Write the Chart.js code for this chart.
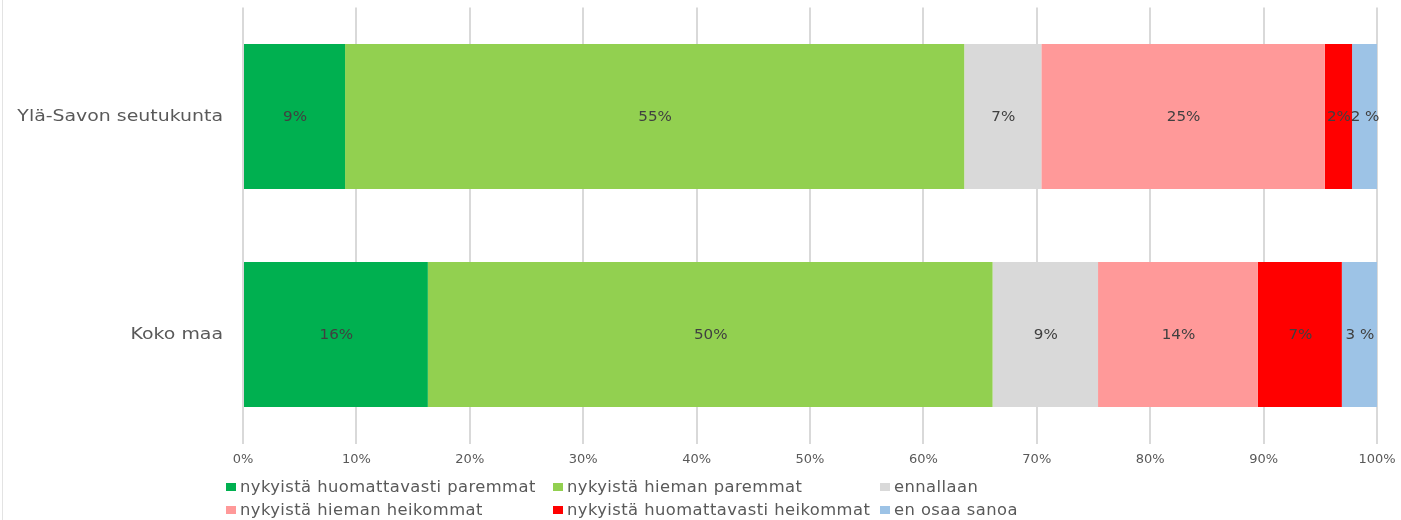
<!DOCTYPE html>
<html>
<head>
<meta charset="utf-8">
<script src="https://cdn.jsdelivr.net/npm/chart.js@4"></script>
<style>
  html, body { margin: 0; padding: 0; background: #fff; }
  #wrap { position: relative; width: 1401px; height: 520px; overflow: hidden; }
  #frame { position: absolute; left: 2px; top: 0; width: 1px; height: 520px; background: #e3e3e3; }
  #legend { position: absolute; left: 226px; top: 476px; display: grid;
    grid-template-columns: 327px 327px 327px; row-gap: 1px;
    font-family: "DejaVu Sans", Verdana, sans-serif; font-size: 15px; color: #595959; letter-spacing: 0.4px; }
  .item { display: flex; align-items: center; height: 22px; white-space: nowrap; }
  .box { width: 10px; height: 8px; margin-right: 4px; flex: none; }
  .txt { display: inline-block; transform: scaleX(1.09); transform-origin: left center; }
</style>
</head>
<body>
<div id="wrap">
  <canvas id="c" width="1401" height="520"></canvas>
  <div id="frame"></div>
  <div id="legend"></div>
</div>
<script>
const categories = ["Ylä-Savon seutukunta", "Koko maa"];
const seriesNames = [
  "nykyistä huomattavasti paremmat",
  "nykyistä hieman paremmat",
  "ennallaan",
  "nykyistä hieman heikommat",
  "nykyistä huomattavasti heikommat",
  "en osaa sanoa"
];
const huomattavastiParemmat = [9.0, 16.3];
const hiemanParemmat = [54.6, 49.8];
const ennallaan = [6.8, 9.3];
const hiemanHeikommat = [25.0, 14.1];
const huomattavastiHeikommat = [2.4, 7.4];
const enOsaa = [2.2, 3.1];
const valueLabels = [
  ["9%", "16%"],
  ["55%", "50%"],
  ["7%", "9%"],
  ["25%", "14%"],
  ["2%", "7%"],
  ["2 %", "3 %"]
];
const xTicks = ["0%", "10%", "20%", "30%", "40%", "50%", "60%", "70%", "80%", "90%", "100%"];
const colors = ["#00b050", "#92d050", "#d9d9d9", "#ff9999", "#ff0000", "#9dc3e6"];
const seriesValues = [huomattavastiParemmat, hiemanParemmat, ennallaan, hiemanHeikommat, huomattavastiHeikommat, enOsaa];

const FONT = '"DejaVu Sans", Verdana, sans-serif';

const labelPlugin = {
  id: 'barLabels',
  afterDatasetsDraw(chart) {
    const ctx = chart.ctx;
    chart.data.datasets.forEach((ds, i) => {
      const meta = chart.getDatasetMeta(i);
      meta.data.forEach((bar, j) => {
        const p = bar.getProps(['x', 'y', 'base'], true);
        const cx = (p.x + p.base) / 2;
        ctx.save();
        ctx.font = '14px ' + FONT;
        ctx.fillStyle = '#404040';
        ctx.textAlign = 'center';
        ctx.textBaseline = 'middle';
        ctx.translate(cx + 0.5, p.y + 1);
        ctx.scale(1.08, 1);
        ctx.fillText(valueLabels[i][j], 0, 0);
        ctx.restore();
      });
    });
  },
  afterDraw(chart) {
    const ctx = chart.ctx;
    const ys = chart.scales.y;
    categories.forEach((c, i) => {
      ctx.save();
      ctx.font = '15px ' + FONT;
      ctx.fillStyle = '#595959';
      ctx.textAlign = 'right';
      ctx.textBaseline = 'middle';
      ctx.translate(223, ys.getPixelForValue(i) + 1);
      ctx.scale(1.26, 1);
      ctx.fillText(c, 0, 0);
      ctx.restore();
    });
  }
};

new Chart(document.getElementById('c'), {
  type: 'bar',
  data: {
    labels: categories,
    datasets: seriesNames.map((n, i) => ({
      label: n,
      data: seriesValues[i],
      backgroundColor: colors[i],
      borderWidth: 0,
      categoryPercentage: 1,
      barPercentage: 0.665
    }))
  },
  options: {
    indexAxis: 'y',
    responsive: false,
    animation: false,
    layout: { padding: { top: 7.5, right: 24, bottom: 46.5, left: 0 } },
    plugins: { legend: { display: false }, tooltip: { enabled: false } },
    scales: {
      x: {
        stacked: true, min: 0, max: 100,
        grid: { color: '#d9d9d9', lineWidth: 2, drawTicks: false },
        border: { display: false },
        ticks: { stepSize: 10, padding: 8, color: '#595959', font: { family: FONT, size: 13 },
          callback: (v, i) => xTicks[i] },
        afterFit: s => { s.height = 30; s.paddingLeft = 0; s.paddingRight = 0; }
      },
      y: {
        stacked: true,
        grid: { display: false, drawTicks: false },
        border: { display: false },
        ticks: { display: false },
        afterFit: s => { s.width = 243; s.paddingTop = 0; s.paddingBottom = 0; }
      }
    }
  },
  plugins: [labelPlugin]
});

const leg = document.getElementById('legend');
seriesNames.forEach((n, i) => {
  const it = document.createElement('div');
  it.className = 'item';
  const b = document.createElement('span');
  b.className = 'box';
  b.style.background = colors[i];
  const t = document.createElement('span');
  t.className = 'txt';
  t.textContent = n;
  it.appendChild(b); it.appendChild(t);
  leg.appendChild(it);
});
</script>
</body>
</html>
